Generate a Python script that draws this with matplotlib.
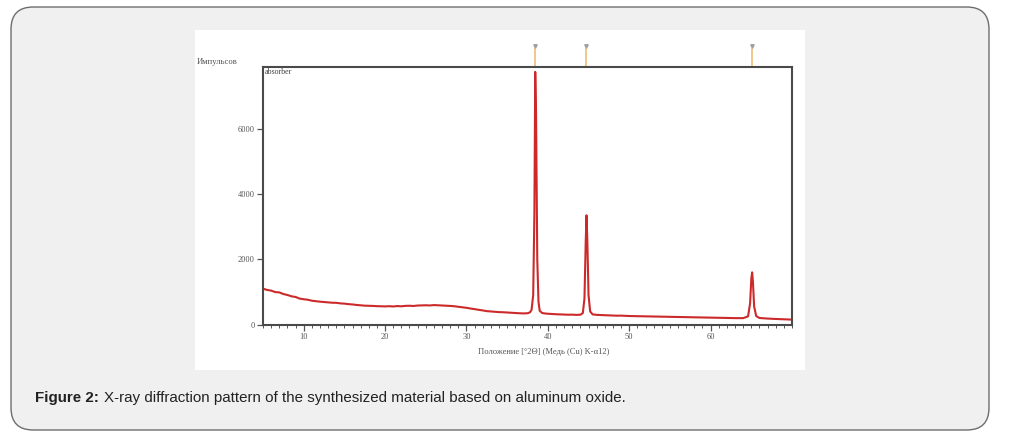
import numpy as np
import matplotlib
matplotlib.use("Agg")
import matplotlib.pyplot as plt
from matplotlib.patches import FancyBboxPatch, Rectangle
from matplotlib.ticker import MultipleLocator

# diffractogram: 2theta (deg) and counts
two_theta = [
    5.0, 5.5, 6.0, 6.5, 7.0, 7.5, 8.0, 8.5, 9.0, 9.5,
    10.0, 10.5, 11.0, 11.5, 12.0, 12.5, 13.0, 13.5, 14.0, 14.5,
    15.0, 15.5, 16.0, 16.5, 17.0, 17.5, 18.0, 18.5, 19.0, 19.5,
    20.0, 20.5, 21.0, 21.5, 22.0, 22.5, 23.0, 23.5, 24.0, 24.5,
    25.0, 25.5, 26.0, 26.5, 27.0, 27.5, 28.0, 28.5, 29.0, 29.5,
    30.0, 30.5, 31.0, 31.5, 32.0, 32.5, 33.0, 33.5, 34.0, 34.5,
    35.0, 35.5, 36.0, 36.5, 37.0, 37.5, 37.8, 38.0, 38.2, 38.35,
    38.45, 38.55, 38.7, 38.85, 39.0, 39.3, 39.6, 40.0, 40.5, 41.0,
    41.5, 42.0, 42.5, 43.0, 43.5, 44.0, 44.3, 44.5, 44.65, 44.75,
    44.85, 45.0, 45.2, 45.5, 46.0, 46.5, 47.0, 47.5, 48.0, 48.5,
    49.0, 49.5, 50.0, 51.0, 52.0, 53.0, 54.0, 55.0, 56.0, 57.0,
    58.0, 59.0, 60.0, 61.0, 62.0, 63.0, 64.0, 64.6, 64.85, 65.0,
    65.1, 65.2, 65.35, 65.6, 66.0, 66.5, 67.0, 67.5, 68.0, 68.5,
    69.0, 69.5, 70.0,
]
counts = [
    1100, 1060, 1040, 995, 985, 935, 905, 865, 845, 795,
    775, 760, 730, 715, 700, 690, 680, 668, 665, 648,
    640, 625, 615, 600, 590, 578, 575, 570, 563, 560,
    555, 562, 553, 566, 558, 572, 575, 568, 582, 586,
    590, 584, 596, 590, 585, 578, 570, 560, 545, 528,
    512, 490, 472, 450, 432, 410, 400, 392, 380, 376,
    368, 360, 352, 345, 340, 345, 372, 450, 900, 3500,
    7750, 6500, 2000, 700, 420, 352, 340, 330, 322, 315,
    310, 305, 300, 302, 295, 300, 350, 800, 2500, 3350,
    2600, 900, 400, 310, 296, 290, 286, 280, 276, 270,
    272, 265, 260, 255, 250, 246, 240, 236, 230, 226,
    220, 216, 210, 206, 200, 196, 195, 250, 650, 1400,
    1600, 1300, 550, 260, 200, 190, 182, 175, 170, 165,
    160, 156, 150,
]

# reference pattern lines shown above the frame
ref_positions = [38.47, 44.74, 65.1]

y_ticks = [0, 2000, 4000, 6000]
x_ticks = [10, 20, 30, 40, 50, 60]

W, H = 1009, 437
fig = plt.figure(figsize=(W / 100, H / 100), dpi=100)
fig.patch.set_facecolor("white")

# rounded caption box, kept behind the axes
box = FancyBboxPatch((11 / W, 1 - 430 / H), 978 / W, 423 / H,
                     boxstyle="round,pad=0,rounding_size=0.022",
                     transform=fig.transFigure, facecolor="#f0f0f0",
                     edgecolor="#6e6e6e", linewidth=1.0, mutation_aspect=W / H,
                     zorder=-3)
fig.patches.append(box)
# white image area
fig.patches.append(Rectangle((195 / W, 1 - 370 / H), 610 / W, 340 / H,
                             transform=fig.transFigure, facecolor="white",
                             edgecolor="none", zorder=-2))

ax = fig.add_axes([263 / W, 1 - 324.5 / H, 529 / W, 257.5 / H])
ax.set_facecolor("none")
ax.plot(two_theta, counts, color="#cc2a2a", linewidth=1.5)

ax.set_xlim(5, 70)
ax.set_ylim(0, 7900)
ax.set_xticks(x_ticks)
ax.xaxis.set_minor_locator(MultipleLocator(1))
ax.set_yticks(y_ticks)

serif = "Liberation Serif"
for lab in ax.get_xticklabels() + ax.get_yticklabels():
    lab.set_fontfamily(serif)
ax.tick_params(axis="both", which="major", labelsize=6, colors="#555555",
               length=4, width=0.9)
ax.tick_params(axis="y", which="major", pad=2)
ax.tick_params(axis="x", which="major", pad=2)
ax.tick_params(axis="x", which="minor", length=2.2, width=0.7, colors="#555555")
for sp in ax.spines.values():
    sp.set_color("#4a4a4a")
    sp.set_linewidth(1.5)

ax.text(478 / W, 1 - 351.5 / H, "Положение [°2Θ] (Медь (Cu) K-α12)",
        transform=fig.transFigure, fontsize=6.1, family=serif,
        color="#555555", ha="left", va="center")
ax.text(0.004, 0.997, "absorber", transform=ax.transAxes, fontsize=5.8,
        family=serif, color="#444444", ha="left", va="top")
fig.text(197 / W, 1 - 62 / H, "Импульсов", fontsize=6.2, family=serif,
         color="#555555", ha="left", va="center")

# reference line markers above the frame
trans = ax.get_xaxis_transform()
for pos in ref_positions:
    ax.plot([pos, pos], [1.0, 1.07], transform=trans, color="#f2c88a",
            linewidth=1.4, clip_on=False)
    ax.plot([pos], [1.08], transform=trans, marker="v", markersize=2.5,
            color="#a0a0a0", clip_on=False, linestyle="none")

fig.text(35 / W, 1 - 398 / H, "Figure 2:", fontsize=10.9, weight="bold",
         family="Liberation Sans", color="#222222", ha="left", va="center")
fig.text(104 / W, 1 - 398 / H,
         "X-ray diffraction pattern of the synthesized material based on aluminum oxide.",
         fontsize=10.9, family="Liberation Sans", color="#222222",
         ha="left", va="center")

fig.savefig("out.png", dpi=100)
